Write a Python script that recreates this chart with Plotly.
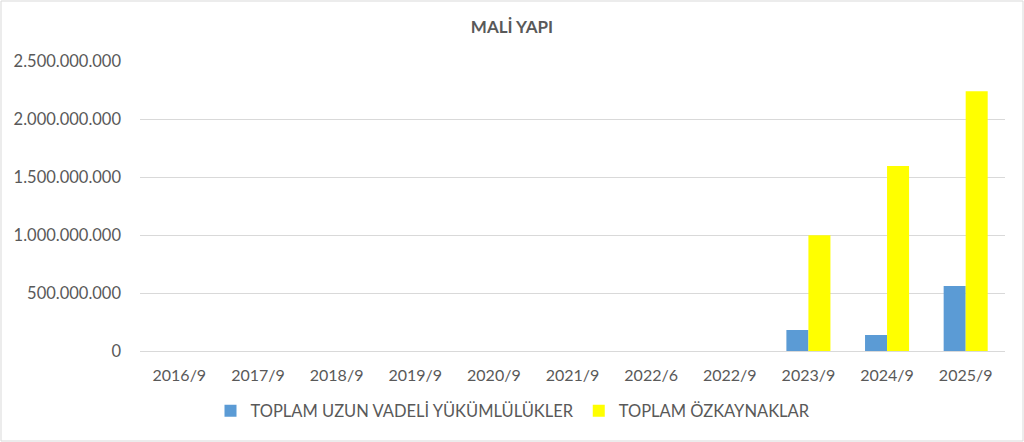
import plotly.graph_objects as go

categories = ["2016/9", "2017/9", "2018/9", "2019/9", "2020/9", "2021/9",
              "2022/6", "2022/9", "2023/9", "2024/9", "2025/9"]
uzun_vadeli = [0, 0, 0, 0, 0, 0, 0, 0, 181_000_000, 138_000_000, 560_000_000]
ozkaynaklar = [0, 0, 0, 0, 0, 0, 0, 0, 997_000_000, 1_595_000_000, 2_240_000_000]
y_ticks = [0, 500_000_000, 1_000_000_000, 1_500_000_000, 2_000_000_000, 2_500_000_000]

FONT = "Lato"
GRAY = "#595959"

fig = go.Figure()
fig.add_trace(go.Bar(x=categories, y=uzun_vadeli, name="TOPLAM UZUN VADELİ YÜKÜMLÜLÜKLER",
                     marker=dict(color="#5B9BD5", line=dict(width=0))))
fig.add_trace(go.Bar(x=categories, y=ozkaynaklar, name="TOPLAM ÖZKAYNAKLAR",
                     marker=dict(color="#FFFF00", line=dict(width=0))))

L, R, T, B = 140, 19, 61, 91
W, H = 1024, 442
pw, ph = W - L - R, H - T - B

fig.update_layout(
    width=W, height=H,
    margin=dict(l=L, r=R, t=T, b=B),
    paper_bgcolor="white", plot_bgcolor="white",
    barmode="group", bargap=0.44, bargroupgap=0,
    separators=",.",
    font=dict(family=FONT, color=GRAY, size=16),
    title=dict(text="<b>MALİ YAPI</b>", x=0.5, xanchor="center", y=1 - 27 / H, yanchor="middle",
               font=dict(family=FONT, size=17, color=GRAY)),
    xaxis=dict(showgrid=False, showline=False, ticks="", tickfont=dict(size=16, color=GRAY, family=FONT),
               ticklabelstandoff=13),
    yaxis=dict(range=[0, 2_500_000_000], tickvals=y_ticks, tickformat=",d",
               showgrid=True, gridcolor="#D9D9D9", gridwidth=1,
               zeroline=True, zerolinecolor="#D9D9D9", zerolinewidth=1,
               showline=False, ticks="", ticklabelstandoff=18,
               tickfont=dict(size=16.5, color=GRAY, family=FONT)),
    legend=dict(orientation="h", x=(513 - L) / pw, xanchor="center", y=-60 / ph, yanchor="middle",
                font=dict(size=16.5, color=GRAY, family=FONT),
                traceorder="normal"),
    showlegend=True,
)

fig.add_shape(type="rect", xref="paper", yref="paper",
              x0=(-L + 1) / pw, x1=(pw + R - 1) / pw,
              y0=(-B + 1) / ph, y1=(ph + T - 1) / ph,
              line=dict(color="#D9D9D9", width=1), fillcolor="rgba(0,0,0,0)", layer="below")

fig.write_html("out.html", config={"displayModeBar": False},
               post_script="document.body.style.margin='0';")
